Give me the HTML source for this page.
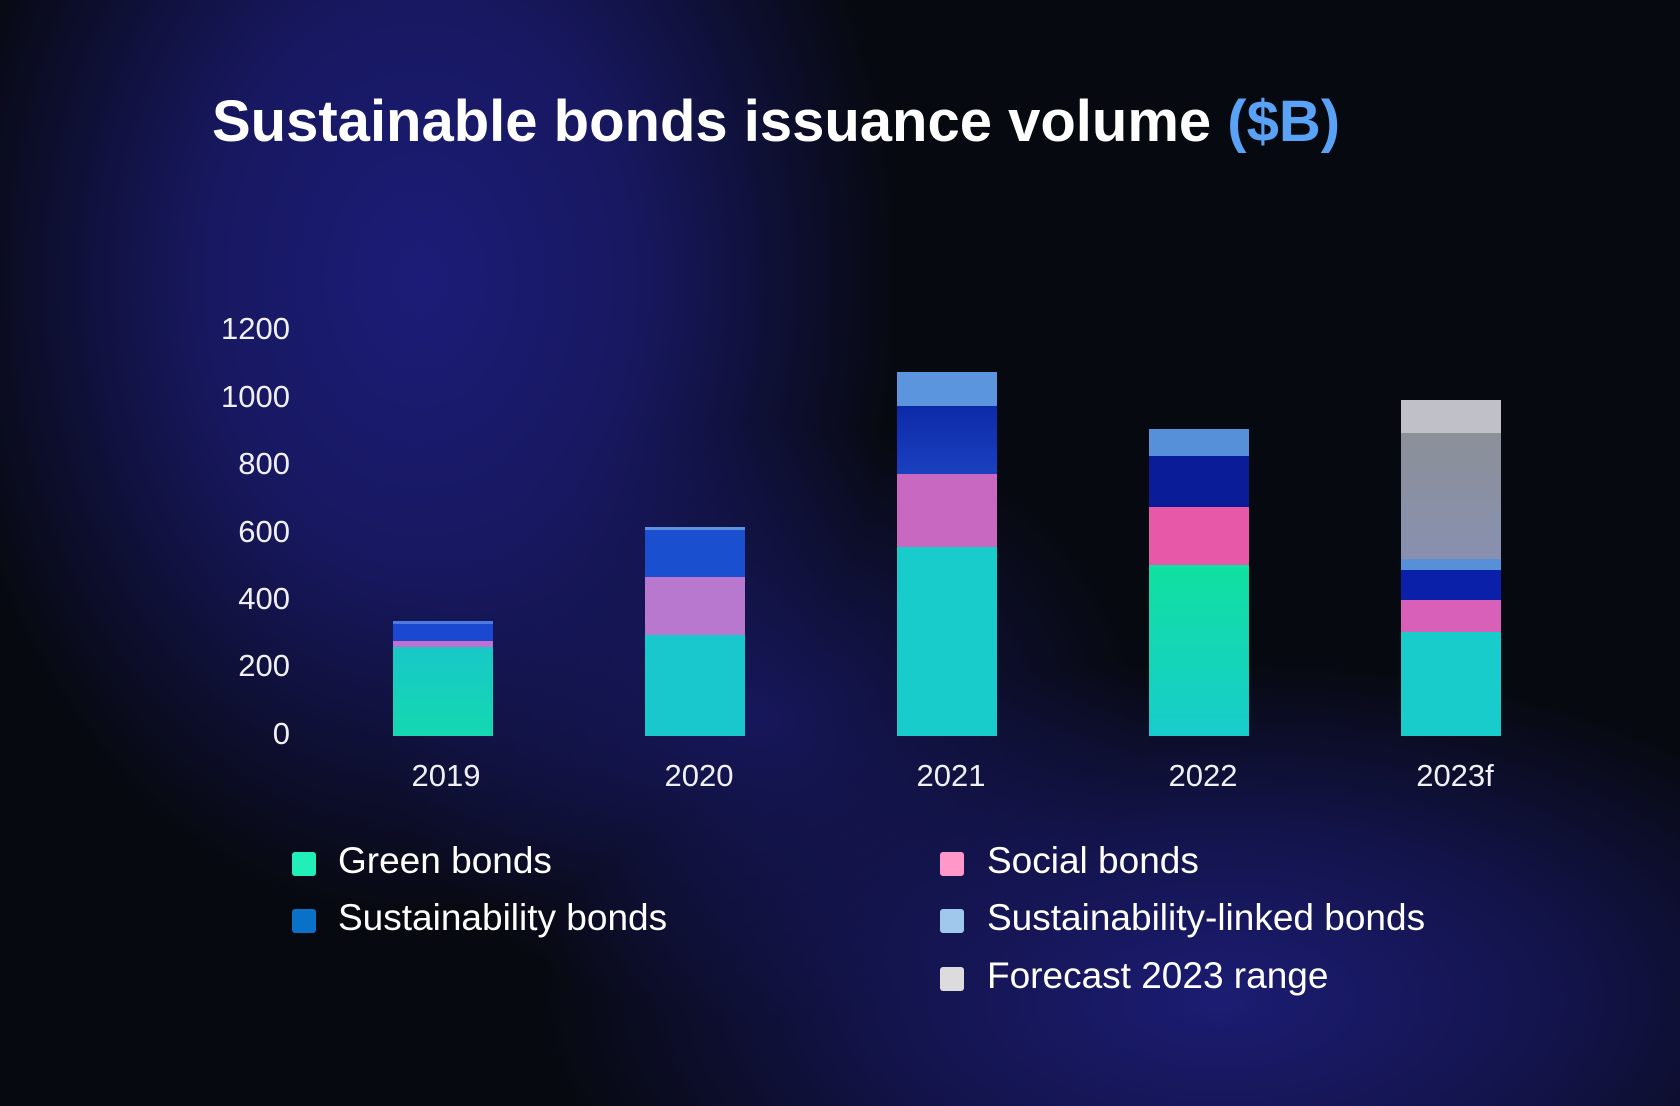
<!DOCTYPE html>
<html><head><meta charset="utf-8"><style>
body{margin:0;width:1680px;height:1106px;overflow:hidden;font-family:"Liberation Sans",sans-serif;color:#fff;
background:
radial-gradient(ellipse 480px 640px at 420px 280px,rgba(28,28,120,1) 0%,rgba(26,26,110,.85) 45%,rgba(20,20,80,0) 100%),
radial-gradient(ellipse 680px 340px at 1220px 1000px,rgba(28,28,115,1) 0%,rgba(24,24,100,.7) 50%,rgba(20,20,80,0) 100%),
radial-gradient(ellipse 380px 300px at 760px 720px,rgba(25,25,105,.85) 0%,rgba(20,20,80,0) 100%),
#070910;position:relative}
.a{position:absolute}
.t{left:212px;top:88px;font-size:58px;font-weight:bold;letter-spacing:0px}
.y{width:80px;text-align:right;left:210px;font-size:31px;line-height:36px;color:#f0f0f4}
.x{width:160px;text-align:center;font-size:31px;top:758px;color:#f0f0f4}
.s{width:24px;height:24px;border-radius:3px}
.l{font-size:37px;line-height:40px}
</style></head><body>
<div class="a t">Sustainable bonds issuance volume <span style="color:#5aa2f5">($B)</span></div>
<div class="a y" style="top:311px">1200</div>
<div class="a y" style="top:379px">1000</div>
<div class="a y" style="top:446px">800</div>
<div class="a y" style="top:514px">600</div>
<div class="a y" style="top:581px">400</div>
<div class="a y" style="top:648px">200</div>
<div class="a y" style="top:716px">0</div>

<div class="a" style="left:393px;top:621px;width:100px;height:3px;background:#4d7ae0"></div>
<div class="a" style="left:393px;top:624px;width:100px;height:17px;background:#1a48d0"></div>
<div class="a" style="left:393px;top:641px;width:100px;height:6px;background:#c070d0"></div>
<div class="a" style="left:393px;top:647px;width:100px;height:89px;background:linear-gradient(#18c8c8,#14d8b0)"></div>
<div class="a" style="left:645px;top:527px;width:100px;height:3px;background:#6090e0"></div>
<div class="a" style="left:645px;top:530px;width:100px;height:47px;background:#1a50d0"></div>
<div class="a" style="left:645px;top:577px;width:100px;height:58px;background:#b878d0"></div>
<div class="a" style="left:645px;top:635px;width:100px;height:101px;background:#18c8cc"></div>
<div class="a" style="left:897px;top:372px;width:100px;height:34px;background:#5b95dd"></div>
<div class="a" style="left:897px;top:406px;width:100px;height:68px;background:linear-gradient(#0c2aa8,#1a40c0)"></div>
<div class="a" style="left:897px;top:474px;width:100px;height:73px;background:#c868c0"></div>
<div class="a" style="left:897px;top:547px;width:100px;height:189px;background:#18cccc"></div>
<div class="a" style="left:1149px;top:429px;width:100px;height:27px;background:#5590d8"></div>
<div class="a" style="left:1149px;top:456px;width:100px;height:51px;background:#0a1c98"></div>
<div class="a" style="left:1149px;top:507px;width:100px;height:58px;background:#e858a8"></div>
<div class="a" style="left:1149px;top:565px;width:100px;height:171px;background:linear-gradient(#10e0a0,#18cccc)"></div>
<div class="a" style="left:1401px;top:400px;width:100px;height:33px;background:#c0c0c8"></div>
<div class="a" style="left:1401px;top:433px;width:100px;height:126px;background:linear-gradient(#8c9098,#8890b0)"></div>
<div class="a" style="left:1401px;top:559px;width:100px;height:11px;background:#5590d8"></div>
<div class="a" style="left:1401px;top:570px;width:100px;height:30px;background:#0a20a8"></div>
<div class="a" style="left:1401px;top:600px;width:100px;height:32px;background:#d860b8"></div>
<div class="a" style="left:1401px;top:632px;width:100px;height:104px;background:#18cccc"></div>

<div class="a x" style="left:366px">2019</div>
<div class="a x" style="left:619px">2020</div>
<div class="a x" style="left:871px">2021</div>
<div class="a x" style="left:1123px">2022</div>
<div class="a x" style="left:1375px">2023f</div>

<div class="a s" style="left:292px;top:852px;background:#20f0b8"></div>
<div class="a l" style="left:338px;top:841px">Green bonds</div>
<div class="a s" style="left:292px;top:909px;background:#0a70c8"></div>
<div class="a l" style="left:338px;top:898px">Sustainability bonds</div>
<div class="a s" style="left:940px;top:852px;background:#ff98c8"></div>
<div class="a l" style="left:987px;top:841px">Social bonds</div>
<div class="a s" style="left:940px;top:909px;background:#a0c8ec"></div>
<div class="a l" style="left:987px;top:898px">Sustainability-linked bonds</div>
<div class="a s" style="left:940px;top:967px;background:#dcdcdc"></div>
<div class="a l" style="left:987px;top:956px">Forecast 2023 range</div>
</body></html>
